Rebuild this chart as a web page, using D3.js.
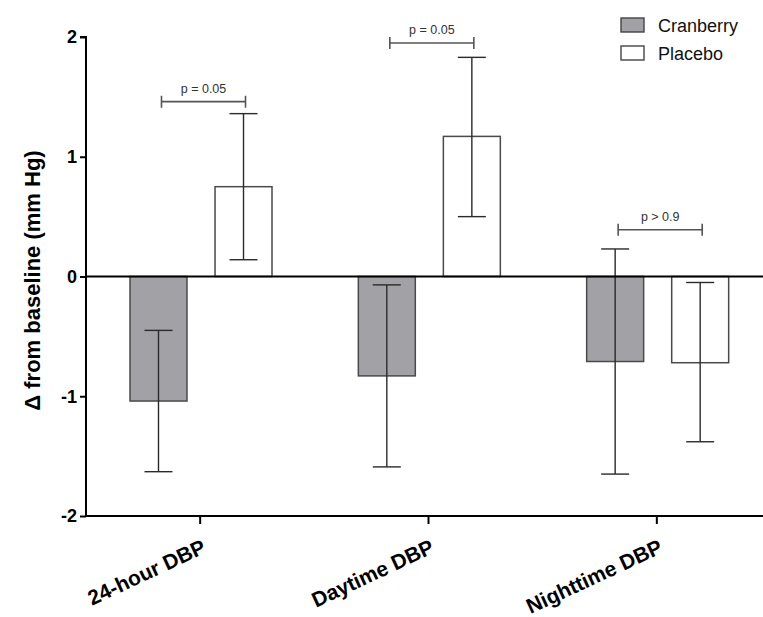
<!DOCTYPE html>
<html>
<head>
<meta charset="utf-8">
<script src="https://cdn.jsdelivr.net/npm/d3@7"></script>
<style>
  html, body { margin: 0; padding: 0; background: #fff; }
  svg { display: block; }
  text { font-family: "Liberation Sans", Arial, sans-serif; }
</style>
</head>
<body>
<script>
// ---- data ----
const categories = ["24-hour DBP", "Daytime DBP", "Nighttime DBP"];
const series = ["Cranberry", "Placebo"];
const cranberryMean  = [-1.04, -0.83, -0.71];
const cranberryLower = [-1.63, -1.59, -1.65];
const cranberryUpper = [-0.45, -0.07, 0.23];
const placeboMean  = [0.75, 1.17, -0.72];
const placeboLower = [0.14, 0.50, -1.38];
const placeboUpper = [1.36, 1.83, -0.05];
const pLabels = ["p = 0.05", "p = 0.05", "p > 0.9"];
const pBracketY = [1.46, 1.95, 0.39];
const yTicks = [-2, -1, 0, 1, 2];

// ---- layout ----
const W = 763, H = 617;
const svg = d3.select("body").append("svg").attr("width", W).attr("height", H);

const y = d3.scaleLinear().domain([-2, 2]).range([516, 37]);
const x0 = d3.scaleBand().domain(categories).range([86, 771]).padding(0);
const x1 = d3.scaleBand().domain(series).range([44, 186]).paddingInner(0.33).paddingOuter(0);

const fills = { Cranberry: "#a2a2a6", Placebo: "#ffffff" };

const rows = [];
categories.forEach((c, i) => {
  rows.push({ cat: c, s: "Cranberry", m: cranberryMean[i], lo: cranberryLower[i], hi: cranberryUpper[i] });
  rows.push({ cat: c, s: "Placebo", m: placeboMean[i], lo: placeboLower[i], hi: placeboUpper[i] });
});

// bars
svg.append("g").selectAll("rect").data(rows).join("rect")
  .attr("x", d => x0(d.cat) + x1(d.s))
  .attr("width", x1.bandwidth())
  .attr("y", d => y(Math.max(0, d.m)))
  .attr("height", d => Math.abs(y(d.m) - y(0)))
  .attr("fill", d => fills[d.s])
  .attr("stroke", "#4a4a4a")
  .attr("stroke-width", 1.5);

// error bars
const capW = 14;
const eg = svg.append("g").attr("stroke", "#2a2a2a").attr("stroke-width", 1.4).attr("fill", "none");
rows.forEach(d => {
  const cx = x0(d.cat) + x1(d.s) + x1.bandwidth() / 2;
  eg.append("line").attr("x1", cx).attr("x2", cx).attr("y1", y(d.lo)).attr("y2", y(d.hi));
  eg.append("line").attr("x1", cx - capW).attr("x2", cx + capW).attr("y1", y(d.lo)).attr("y2", y(d.lo));
  eg.append("line").attr("x1", cx - capW).attr("x2", cx + capW).attr("y1", y(d.hi)).attr("y2", y(d.hi));
});

// zero line
svg.append("line").attr("x1", 86).attr("x2", W).attr("y1", y(0)).attr("y2", y(0))
  .attr("stroke", "#000").attr("stroke-width", 2);

// y axis
const yAxis = svg.append("g").attr("transform", "translate(86,0)")
  .call(d3.axisLeft(y).tickValues(yTicks).tickSize(6).tickPadding(3).tickFormat(d => String(d)));
yAxis.select(".domain").attr("stroke", "#000").attr("stroke-width", 2).attr("d", `M-6,${y(2)}H0V${y(-2)}`);
yAxis.selectAll(".tick line").attr("stroke", "#000").attr("stroke-width", 2);
yAxis.selectAll(".tick text").attr("font-size", 18).attr("font-weight", "bold").attr("fill", "#000")
  .attr("font-family", "Liberation Sans, Arial, sans-serif");

// x axis
const xAxis = svg.append("g").attr("transform", `translate(0,${y(-2)})`)
  .call(d3.axisBottom(x0).tickSize(8).tickFormat(""));
xAxis.select(".domain").attr("stroke", "#000").attr("stroke-width", 2).attr("d", `M86,0H${W}`);
xAxis.selectAll(".tick line").attr("stroke", "#000").attr("stroke-width", 2);
xAxis.selectAll(".tick").append("text")
  .text(d => d)
  .attr("text-anchor", "end")
  .attr("transform", "translate(7,36) rotate(-25)")
  .attr("font-size", 21)
  .attr("font-weight", "bold")
  .attr("fill", "#000")
  .attr("font-family", "Liberation Sans, Arial, sans-serif");

// y axis label
svg.append("text")
  .attr("transform", `translate(40,${y(0) + 4}) rotate(-90)`)
  .attr("text-anchor", "middle")
  .attr("font-size", 22).attr("font-weight", "bold").attr("fill", "#000")
  .text("\u0394 from baseline (mm Hg)");

// significance brackets
const bg = svg.append("g");
categories.forEach((c, i) => {
  const xa = x0(c) + x1("Cranberry") + x1.bandwidth() / 2 + 3;
  const xb = x0(c) + x1("Placebo") + x1.bandwidth() / 2 + 2;
  const yy = y(pBracketY[i]);
  bg.append("path").attr("d", `M${xa},${yy - 6}V${yy + 6}M${xa},${yy}H${xb}M${xb},${yy - 6}V${yy + 6}`)
    .attr("stroke", "#555").attr("stroke-width", 1.6).attr("fill", "none");
  bg.append("text").attr("x", (xa + xb) / 2).attr("y", yy - 9).attr("text-anchor", "middle")
    .attr("font-size", 12.5).attr("fill", "#333").text(pLabels[i]);
});

// legend
const lg = svg.append("g");
series.forEach((s, i) => {
  lg.append("rect").attr("x", 621).attr("y", 18 + i * 28).attr("width", 23).attr("height", 14)
    .attr("fill", fills[s]).attr("stroke", "#444").attr("stroke-width", 1.4);
  lg.append("text").attr("x", 658).attr("y", 32 + i * 28).attr("font-size", 18).attr("fill", "#111").text(s);
});
</script>
</body>
</html>
